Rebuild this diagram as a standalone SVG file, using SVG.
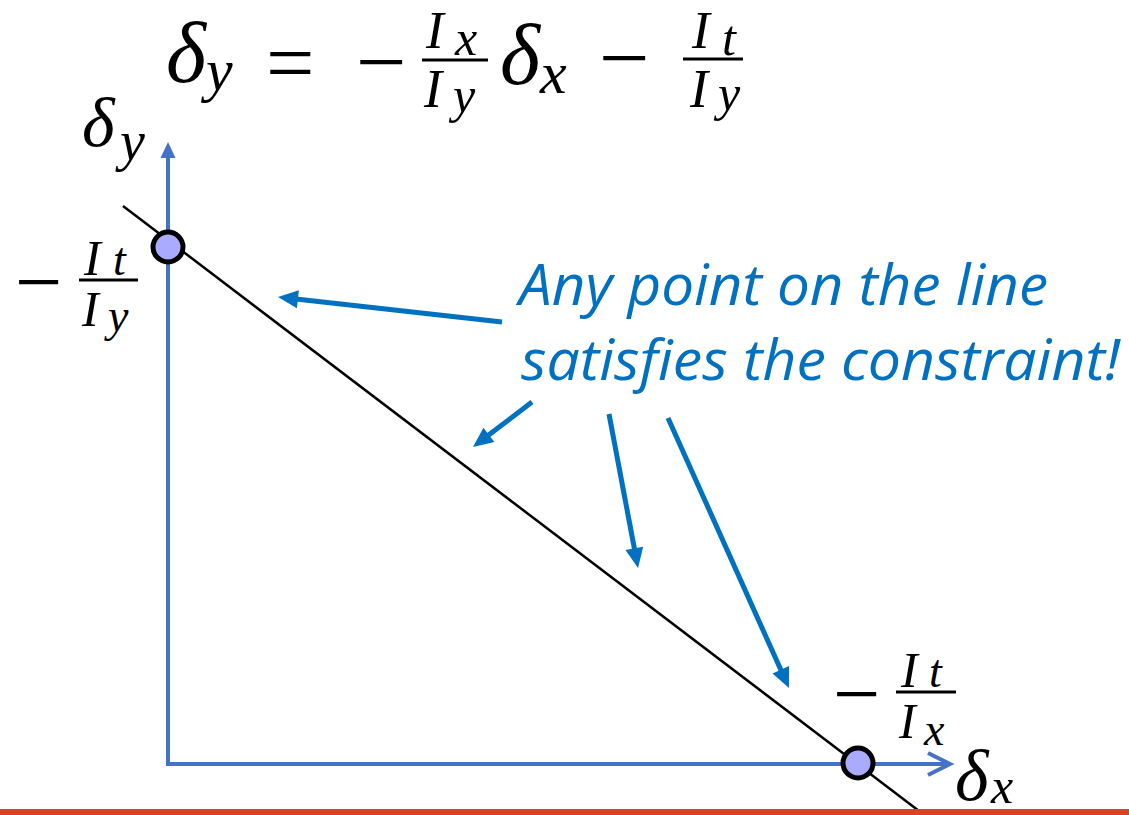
<svg xmlns="http://www.w3.org/2000/svg" width="1129" height="815" viewBox="0 0 1129 815">
<style>
.m{font-family:"Liberation Serif","DejaVu Serif",serif;font-style:italic;fill:#000}
.r{font-family:"Liberation Serif","DejaVu Serif",serif;fill:#000}
.bar{stroke:#000;stroke-width:3}
.ann{font-family:"Open Sans","Liberation Sans",sans-serif;font-style:italic;font-size:56px;fill:#0070C0}
.axis{stroke:#4472C4;stroke-width:4;fill:none}
.pt{fill:#AAAAFF;stroke:#000;stroke-width:5}
.call{stroke:#0070C0;stroke-width:5;fill:none;marker-end:url(#ah)}
</style>
<defs>
<marker id="ah" markerUnits="userSpaceOnUse" markerWidth="30" markerHeight="30" viewBox="-5 -15 30 30" refX="0" refY="0" orient="auto" overflow="visible">
<path d="M-2,-9 L18,0 L-2,9 z" fill="#0070C0"/>
</marker>
</defs>
<rect width="1129" height="815" fill="#fff"/>
<g id="equation">
<text class="m" x="166" y="82" font-size="86">δ</text>
<text class="m" x="206" y="90" font-size="60">y</text>
<text class="r" x="266" y="92" font-size="86">=</text>
<text class="r" x="356" y="92" font-size="90">−</text>
<line class="bar" x1="422" y1="60" x2="488" y2="60"/>
<text class="m" x="426" y="48" font-size="53">I</text>
<text class="m" x="455" y="55" font-size="50">x</text>
<text class="m" x="424" y="107" font-size="54">I</text>
<text class="m" x="453" y="112" font-size="50">y</text>
<text class="m" x="500" y="84" font-size="86">δ</text>
<text class="m" x="540" y="93" font-size="60">x</text>
<text class="r" x="599" y="88" font-size="90">−</text>
<line class="bar" x1="683" y1="59" x2="743" y2="59"/>
<text class="m" x="692" y="48" font-size="53">I</text>
<text class="m" x="722" y="55" font-size="50">t</text>
<text class="m" x="690" y="107" font-size="54">I</text>
<text class="m" x="718" y="110" font-size="50">y</text>
</g>
<g id="axes">
<line class="axis" x1="168" y1="765" x2="168" y2="156"/>
<polygon points="168,142 160.5,158 175.5,158" fill="#4472C4"/>
<line class="axis" x1="166" y1="764" x2="948" y2="764"/>
<polyline class="axis" points="928,753 950,764 928,775"/>
</g>
<g id="label-dy">
<text class="m" x="82" y="146" font-size="70">δ</text>
<text class="m" x="120" y="160" font-size="56">y</text>
</g>
<g id="label-yint">
<text class="r" x="15" y="310" font-size="84">−</text>
<line class="bar" x1="79" y1="280" x2="138" y2="280"/>
<text class="m" x="84" y="275" font-size="50">I</text>
<text class="m" x="113" y="275" font-size="46">t</text>
<text class="m" x="82" y="326" font-size="50">I</text>
<text class="m" x="108" y="331" font-size="46">y</text>
</g>
<g id="label-xint">
<text class="r" x="833" y="722" font-size="84">−</text>
<line class="bar" x1="896" y1="692" x2="956" y2="692"/>
<text class="m" x="901" y="687" font-size="50">I</text>
<text class="m" x="929" y="687" font-size="46">t</text>
<text class="m" x="899" y="738" font-size="50">I</text>
<text class="m" x="924" y="745" font-size="46">x</text>
</g>
<g id="label-dx">
<text class="m" x="955" y="800" font-size="72">δ</text>
<text class="m" x="991" y="803" font-size="50">x</text>
</g>
<g id="constraint-line">
<line x1="123" y1="206" x2="923" y2="814" stroke="#000" stroke-width="2.5"/>
</g>
<g id="point-yint"><circle class="pt" cx="168" cy="247" r="15"/></g>
<g id="point-xint"><circle class="pt" cx="858" cy="763" r="15"/></g>
<g id="annotation">
<text class="ann" x="519" y="305" textLength="529" lengthAdjust="spacingAndGlyphs">Any point on the line</text>
<text class="ann" x="521" y="380" textLength="599" lengthAdjust="spacingAndGlyphs">satisfies the constraint!</text>
</g>
<g id="connectors">
<line class="call" x1="502" y1="322" x2="295.9" y2="299"/>
<line class="call" x1="532" y1="402" x2="487.3" y2="436.1"/>
<line class="call" x1="609" y1="414" x2="634.7" y2="550.3"/>
<line class="call" x1="668" y1="418" x2="781.6" y2="671.6"/>
</g>
<rect x="0" y="809" width="1129" height="6" fill="#DC4128"/>
</svg>
